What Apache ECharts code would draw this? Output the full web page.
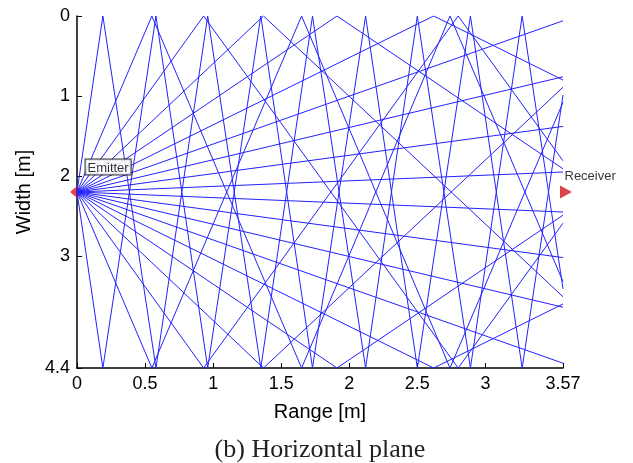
<!DOCTYPE html>
<html>
<head>
<meta charset="utf-8">
<script src="https://cdn.jsdelivr.net/npm/echarts@6/dist/echarts.min.js"></script>
<style>
html, body { margin: 0; padding: 0; background: #fff; }
#myChart { width: 633px; height: 463px; }
</style>
</head>
<body>
<div id="myChart"></div>
<script>
// x ticks / y ticks
var xTicks = [0, 0.5, 1, 1.5, 2, 2.5, 3, 3.57];
var yTicks = [0, 1, 2, 3, 4.4];

var emitter = [0, 2.2];
var receiver = [3.57, 2.2];

// rays leaving upward (toward width 0), vertices
var upRays = [
  [[0, 2.2], [3.57, 1.95]],
  [[0, 2.2], [3.57, 1.38]],
  [[0, 2.2], [3.57, 0.76]],
  [[0, 2.2], [3.57, 0.06]],
  [[0, 2.2], [2.62, 0], [3.57, 0.80]],
  [[0, 2.2], [1.91, 0], [3.57, 1.91]],
  [[0, 2.2], [1.37, 0], [3.57, 3.51]],
  [[0, 2.2], [0.93, 0], [2.80, 4.4], [3.57, 2.59]],
  [[0, 2.2], [0.55, 0], [1.65, 4.4], [2.74, 0], [3.57, 3.32]],
  [[0, 2.2], [0.19, 0], [0.58, 4.4], [0.96, 0], [1.35, 4.4], [1.73, 0], [2.12, 4.4], [2.50, 0], [2.89, 4.4], [3.27, 0], [3.57, 3.41]]
];

// rays leaving downward (toward width 4.4)
var downRays = [
  [[0, 2.2], [3.57, 2.45]],
  [[0, 2.2], [3.57, 3.02]],
  [[0, 2.2], [3.57, 3.64]],
  [[0, 2.2], [3.57, 4.34]],
  [[0, 2.2], [2.62, 4.4], [3.57, 3.60]],
  [[0, 2.2], [1.91, 4.4], [3.57, 2.49]],
  [[0, 2.2], [1.37, 4.4], [3.57, 0.89]],
  [[0, 2.2], [0.93, 4.4], [2.80, 0], [3.57, 1.81]],
  [[0, 2.2], [0.55, 4.4], [1.65, 0], [2.74, 4.4], [3.57, 1.08]],
  [[0, 2.2], [0.19, 4.4], [0.58, 0], [0.96, 4.4], [1.35, 0], [1.73, 4.4], [2.12, 0], [2.50, 4.4], [2.89, 0], [3.27, 4.4], [3.57, 0.99]]
];

var myChart = echarts.init(document.getElementById("myChart"));

var series = [];
upRays.concat(downRays).forEach(function (r) {
  series.push({
    type: "line",
    data: r,
    symbol: "none",
    silent: true,
    z: 3,
    lineStyle: { color: "#2222ff", width: 1 }
  });
});

// red markers
series.push({
  type: "scatter",
  data: [emitter],
  symbol: "triangle",
  symbolSize: [13, 8],
  symbolRotate: 90,
  symbolOffset: [-3, 0],
  itemStyle: { color: "#d0161b" },
  z: 2
});
series.push({
  type: "scatter",
  data: [receiver],
  symbol: "triangle",
  symbolSize: [13, 12],
  symbolRotate: -90,
  symbolOffset: [3, 0],
  itemStyle: { color: "#d0161b" },
  z: 2
});

// text labels on top of the rays
series.push({
  type: "scatter",
  data: [emitter],
  symbolSize: 1,
  itemStyle: { color: "rgba(0,0,0,0)" },
  z: 10,
  label: {
    show: true,
    position: [9, -32],
    formatter: "Emitter",
    color: "#000",
    fontFamily: "Liberation Sans",
    fontSize: 13,
    backgroundColor: "#fff",
    borderColor: "#000",
    borderWidth: 1,
    padding: [2, 2, 0, 2]
  }
});
series.push({
  type: "scatter",
  data: [receiver],
  symbolSize: 1,
  itemStyle: { color: "rgba(0,0,0,0)" },
  z: 10,
  label: {
    show: true,
    position: [2, -22],
    formatter: "Receiver",
    color: "#000",
    fontFamily: "Liberation Sans",
    fontSize: 13
  }
});

var option = {
  animation: false,
  backgroundColor: "#fff",
  grid: { left: 77, right: 70, top: 16, bottom: 95 },
  title: {
    text: "(b) Horizontal plane",
    left: 315,
    top: 432,
    textAlign: "center",
    textStyle: { fontFamily: "Liberation Serif", fontSize: 26, fontWeight: "normal", color: "#222" }
  },
  xAxis: {
    type: "value",
    min: 0,
    max: 3.57,
    name: "Range [m]",
    nameLocation: "middle",
    nameGap: 34,
    nameTextStyle: { fontFamily: "Liberation Sans", fontSize: 20, color: "#000" },
    axisLine: { show: true, onZero: false, lineStyle: { color: "#000", width: 1.5 } },
    axisTick: { show: true, inside: true, length: 5, customValues: xTicks, lineStyle: { color: "#000" } },
    axisLabel: {
      customValues: xTicks,
      margin: 7,
      color: "#000",
      fontFamily: "Liberation Sans",
      fontSize: 18,
      formatter: function (v) { return String(v); }
    },
    splitLine: { show: false }
  },
  yAxis: {
    type: "value",
    min: 0,
    max: 4.4,
    inverse: true,
    name: "Width [m]",
    nameLocation: "middle",
    nameGap: 41,
    nameRotate: 90,
    nameTextStyle: { fontFamily: "Liberation Sans", fontSize: 20, color: "#000" },
    axisLine: { show: true, onZero: false, lineStyle: { color: "#000", width: 1.5 } },
    axisTick: { show: true, inside: true, length: 5, customValues: yTicks, lineStyle: { color: "#000" } },
    axisLabel: {
      customValues: yTicks,
      margin: 7,
      color: "#000",
      fontFamily: "Liberation Sans",
      fontSize: 18,
      formatter: function (v) { return String(v); }
    },
    splitLine: { show: false }
  },
  series: series
};

myChart.setOption(option);
</script>
</body>
</html>
